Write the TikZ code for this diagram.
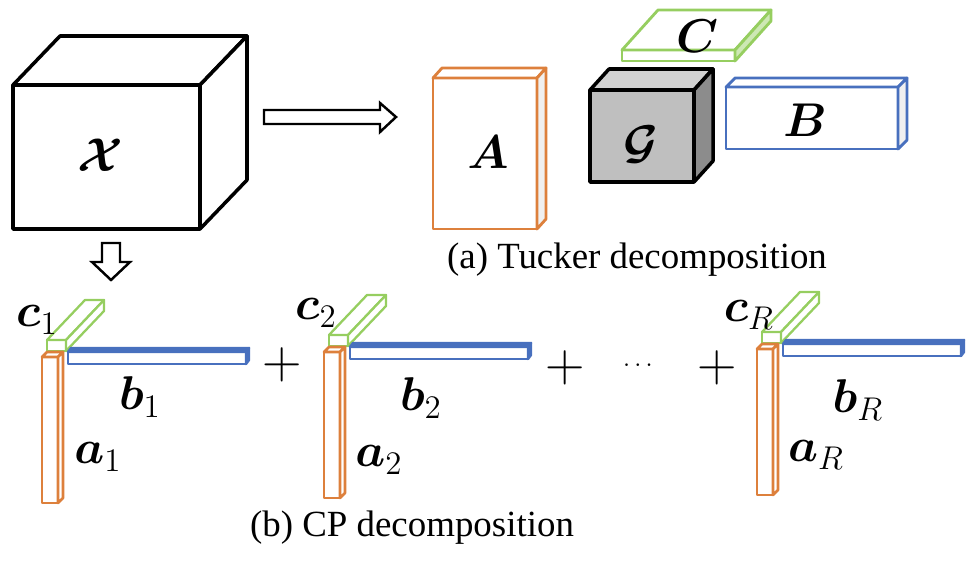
\documentclass[tikz,border=0pt]{standalone}
\usepackage{amsmath}
\usepackage{bm}
\usepackage{fontspec}
\setmainfont{Liberation Serif}
\definecolor{cpor}{RGB}{221,128,60}
\definecolor{cpgr}{RGB}{150,206,96}
\definecolor{cpbl}{RGB}{72,112,190}
\definecolor{lgr}{RGB}{205,232,180}
% front rect x1,y1,x2,y2 ; depth dx,dy ; style front ; style top ; style side
\newcommand\myprism[9]{%
  \draw[line join=round,#7] (#1,#2) rectangle (#3,#4);
  \draw[line join=round,#8] (#1,#2) -- ({#1+#5},{#2+#6}) -- ({#3+#5},{#2+#6}) -- (#3,#2) -- cycle;
  \draw[line join=round,#9] (#3,#2) -- ({#3+#5},{#2+#6}) -- ({#3+#5},{#4+#6}) -- (#3,#4) -- cycle;
}
\newcommand\cpterm[2]{%
  \myprism{#1+5}{#2-17}{#1+24}{#2-6}{38}{-40}{cpgr,line width=1.3pt,fill=white}{cpgr,line width=1.3pt,fill=white}{cpgr,line width=1.3pt,fill=white}
  \myprism{#1+26}{#2-5}{#1+204}{#2+7}{3}{-4}{cpbl,line width=1.4pt,fill=white}{cpbl,line width=1.4pt,fill=cpbl}{cpbl,line width=1.4pt,fill=cpbl}
  \myprism{#1}{#2}{#1+16}{#2+146}{5}{-5}{cpor,line width=1.5pt,fill=white}{cpor,line width=1.5pt,fill=white}{cpor,line width=1.5pt,fill=white}
}
\tikzset{
  mlab/.style={font=\huge, scale=1.3, inner sep=0pt},
  plus/.style={font=\huge, scale=1.5, inner sep=0pt},
  captxt/.style={font=\fontsize{21}{25}\selectfont, inner sep=0pt},
  hollow/.style={draw=black, line width=1.4pt, fill=white, line join=miter}
}
\begin{document}
\begin{tikzpicture}[x=0.02cm,y=-0.02cm]
\useasboundingbox (0,0) rectangle (974,562);
% tensor X
\myprism{13}{85}{200}{229}{47}{-49}{black,line width=2pt,fill=white}{black,line width=2pt,fill=white}{black,line width=2pt,fill=white}
\node[mlab] (X) at (100,155) {$\boldsymbol{\mathcal{X}}$};
% right hollow arrow
\draw[hollow] (264,110) -- (380,110) -- (380,103) -- (396,117) -- (380,132) -- (380,124) -- (264,124) -- cycle;
% down hollow arrow
\draw[hollow] (102,243) -- (120,243) -- (120,262) -- (130,262) -- (111,280) -- (92,262) -- (102,262) -- cycle;
% Tucker: A
\myprism{433}{78}{537}{229}{9}{-10}{cpor,line width=1.6pt,fill=white}{cpor,line width=1.6pt,fill=white}{cpor,line width=1.6pt,fill=black!6}
\node[mlab] (A) at (488,152) {$\boldsymbol{A}$};
% C
\myprism{622}{50}{735}{61}{36}{-40}{cpgr,line width=1.6pt,fill=white}{cpgr,line width=1.6pt,fill=white}{cpgr,line width=1.6pt,fill=lgr}
\node[mlab] (C) at (697,36) {$\boldsymbol{C}$};
% G
\myprism{590}{90}{694}{182}{19}{-21}{black,line width=2pt,fill=black!25}{black,line width=2pt,fill=black!18}{black,line width=2pt,fill=black!45}
\node[mlab] (G) at (641,145) {$\boldsymbol{\mathcal{G}}$};
% B
\myprism{726}{87}{898}{149}{9}{-9}{cpbl,line width=1.6pt,fill=white}{cpbl,line width=1.6pt,fill=white}{cpbl,line width=1.6pt,fill=black!6}
\node[mlab] (B) at (805,120) {$\boldsymbol{B}$};
\node[captxt] (capa) at (637,260) {(a) Tucker decomposition};
% CP terms
\cpterm{42}{357}
\cpterm{324}{352}
\cpterm{757}{349}
\node[mlab] (c1) at (37,320) {$\boldsymbol{c}_1$};
\node[mlab] (b1) at (140,397) {$\boldsymbol{b}_1$};
\node[mlab] (a1) at (98,457) {$\boldsymbol{a}_1$};
\node[mlab] (c2) at (316,313) {$\boldsymbol{c}_2$};
\node[mlab] (b2) at (421,398) {$\boldsymbol{b}_2$};
\node[mlab] (a2) at (379,460) {$\boldsymbol{a}_2$};
\node[mlab] (cR) at (749,315) {$\boldsymbol{c}_R$};
\node[mlab] (bR) at (858,400) {$\boldsymbol{b}_R$};
\node[mlab] (aR) at (816,455) {$\boldsymbol{a}_R$};
\node[plus] (p1) at (282,365) {$+$};
\node[plus] (p2) at (565,368) {$+$};
\node[font=\Large, inner sep=0pt] (dots) at (640,366) {$\cdots$};
\node[plus] (p3) at (717,368) {$+$};
\node[captxt] (capb) at (412,528) {(b) CP decomposition};
\end{tikzpicture}
\end{document}
